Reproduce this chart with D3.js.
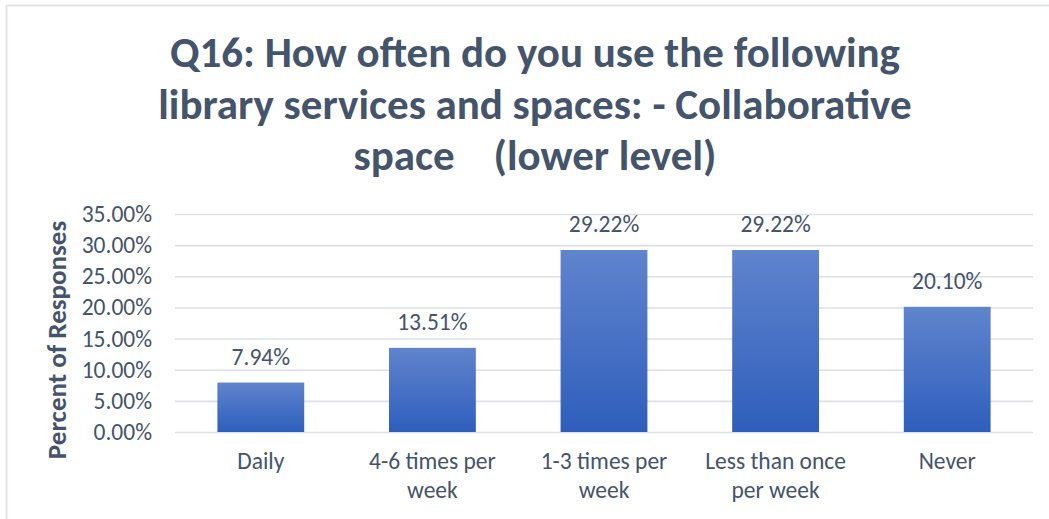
<!DOCTYPE html>
<html>
<head>
<meta charset="utf-8">
<script src="https://cdnjs.cloudflare.com/ajax/libs/d3/7.8.5/d3.min.js"></script>
<style>
  html, body { margin: 0; padding: 0; background: #fff; }
  svg { display: block; }
</style>
</head>
<body>
<svg id="chart" width="1049" height="519"></svg>
<script>
// Survey responses, Q16 – collaborative space (lower level)
const categories = ["Daily", "4-6 times per week", "1-3 times per week", "Less than once per week", "Never"];
const categoryLines = [["Daily"], ["4-6 times per", "week"], ["1-3 times per", "week"], ["Less than once", "per week"], ["Never"]];
const percentValues = [7.94, 13.51, 29.22, 29.22, 20.10];
const tickValues = [0, 5, 10, 15, 20, 25, 30, 35];
const titleLines = [
  "Q16: How often do you use the following",
  "library services and spaces: - Collaborative",
  "space    (lower level)"
];
const yAxisTitle = "Percent of Responses";

const W = 1049, H = 519;
const margin = { left: 175, right: 1033, top: 214, bottom: 432 };
const textColor = "#44546A";
const font = "Carlito, Calibri, Lato, sans-serif";
const labelSize = 23.5;

const svg = d3.select("#chart");

// gradient for the bars
const defs = svg.append("defs");
const grad = defs.append("linearGradient")
  .attr("id", "barGrad").attr("x1", 0).attr("y1", 0).attr("x2", 0).attr("y2", 1);
grad.append("stop").attr("offset", "0%").attr("stop-color", "#6084CD");
grad.append("stop").attr("offset", "100%").attr("stop-color", "#2E5EBC");

// chart frame (top and left edges)
svg.append("line").attr("x1", 6).attr("x2", W).attr("y1", 5.5).attr("y2", 5.5)
  .attr("stroke", "#E1E4E9").attr("stroke-width", 2);
svg.append("line").attr("x1", 6.5).attr("x2", 6.5).attr("y1", 5).attr("y2", H)
  .attr("stroke", "#E1E4E9").attr("stroke-width", 2);

const x = d3.scaleBand().domain(categories).range([margin.left, margin.right]).paddingInner(0.494).paddingOuter(0.247);
const y = d3.scaleLinear().domain([0, 35]).range([margin.bottom, margin.top]);

// gridlines
const grid = d3.axisLeft(y).tickValues(tickValues).tickSize(-(margin.right - margin.left)).tickFormat("");
const gGrid = svg.append("g").attr("transform", `translate(${margin.left},0)`).call(grid);
gGrid.select(".domain").remove();
gGrid.selectAll(".tick line").attr("stroke", "#DDE0E5").attr("stroke-width", 1.6);

// y tick labels
const yAxis = d3.axisLeft(y).tickValues(tickValues).tickSize(0).tickPadding(0)
  .tickFormat(d => d.toFixed(2) + "%");
const gY = svg.append("g").attr("transform", `translate(152,0)`).call(yAxis);
gY.select(".domain").remove();
gY.selectAll(".tick text")
  .attr("fill", textColor).attr("font-family", font).attr("font-size", labelSize)
  .attr("dy", "0.32em");

// bars
svg.append("g").selectAll("rect").data(percentValues).join("rect")
  .attr("x", (d, i) => x(categories[i]))
  .attr("width", x.bandwidth())
  .attr("y", d => y(d))
  .attr("height", d => y(0) - y(d))
  .attr("fill", "url(#barGrad)");

// value labels
svg.append("g").selectAll("text").data(percentValues).join("text")
  .attr("x", (d, i) => x(categories[i]) + x.bandwidth() / 2)
  .attr("y", d => y(d) - 18)
  .attr("text-anchor", "middle")
  .attr("fill", textColor).attr("font-family", font).attr("font-size", labelSize)
  .text(d => d.toFixed(2) + "%");

// category labels
const gX = svg.append("g");
categories.forEach((c, i) => {
  const cx = x(c) + x.bandwidth() / 2;
  const t = gX.append("text")
    .attr("x", cx)
    .attr("y", 469)
    .attr("text-anchor", "middle")
    .attr("fill", textColor).attr("font-family", font).attr("font-size", labelSize);
  categoryLines[i].forEach((line, j) => {
    t.append("tspan").attr("x", cx).attr("dy", j === 0 ? 0 : 28.5).text(line);
  });
});

// y axis title
svg.append("text")
  .attr("transform", "translate(66,340) rotate(-90)")
  .attr("text-anchor", "middle")
  .attr("fill", textColor).attr("font-family", font).attr("font-size", 27).attr("font-weight", "bold")
  .text(yAxisTitle);

// chart title
const title = svg.append("text")
  .attr("text-anchor", "middle")
  .attr("fill", textColor).attr("font-family", font).attr("font-size", 43).attr("font-weight", "bold");
titleLines.forEach((line, i) => {
  title.append("tspan").attr("x", 535).attr("y", 67 + i * 51.5).attr("xml:space", "preserve").text(line);
});
</script>
</body>
</html>
